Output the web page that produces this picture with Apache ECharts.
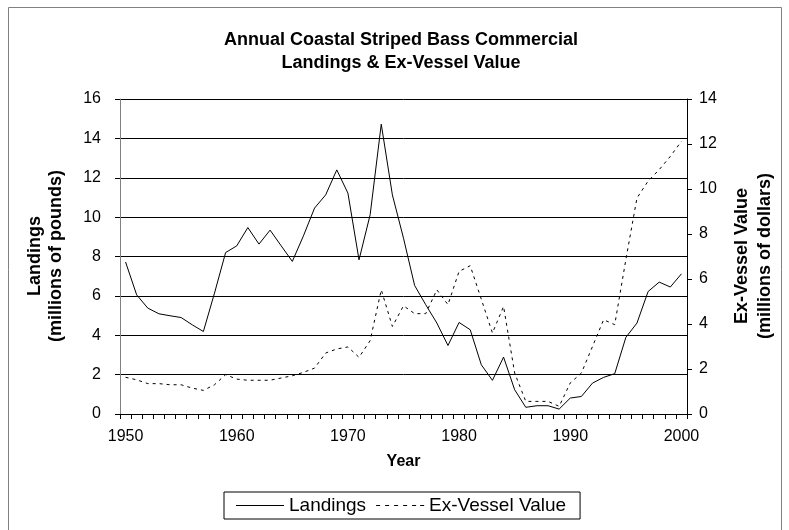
<!DOCTYPE html>
<html><head><meta charset="utf-8">
<script src="https://cdn.jsdelivr.net/npm/echarts@6/dist/echarts.min.js"></script>
<style>html,body{margin:0;padding:0;background:#fff}#c{width:789px;height:530px}</style>
</head><body><div id="c"></div>
<script>
var years = [];
for (var y = 1950; y <= 2000; y++) years.push(String(y));
var landings = [7.72, 6.05, 5.38, 5.09, 4.99, 4.90, 4.53, 4.19, 6.14, 8.20,
  8.54, 9.47, 8.63, 9.34, 8.54, 7.75, 9.05, 10.46, 11.13, 12.40,
  11.22, 7.83, 10.12, 14.72, 11.13, 8.93, 6.53, 5.55, 4.62, 3.48,
  4.65, 4.28, 2.50, 1.71, 2.89, 1.23, 0.34, 0.42, 0.42, 0.25,
  0.81, 0.89, 1.57, 1.86, 2.05, 3.89, 4.62, 6.22, 6.70, 6.45,
  7.12];
var exVesselValue = [1.63, 1.52, 1.35, 1.35, 1.30, 1.30, 1.15, 1.05, 1.30, 1.75,
  1.55, 1.50, 1.50, 1.50, 1.60, 1.70, 1.85, 2.04, 2.71, 2.89,
  2.98, 2.52, 3.26, 5.52, 3.89, 4.81, 4.46, 4.46, 5.52, 4.86,
  6.34, 6.59, 5.10, 3.60, 4.78, 1.82, 0.56, 0.56, 0.56, 0.34,
  1.38, 1.82, 3.00, 4.19, 3.97, 6.86, 9.60, 10.35, 10.86, 11.45,
  12.12];
var titleLines = ['Annual Coastal Striped Bass Commercial', 'Landings & Ex-Vessel Value'];
var FONT = '"Liberation Sans", Arial, sans-serif';

var solidIcon = 'path://M0,0H48V1H0Z';
var dashIcon = 'path://M0,0H4V1H0Z M9,0H13V1H9Z M18,0H22V1H18Z M27,0H31V1H27Z M36,0H40V1H36Z M44,0H48V1H44Z';

var chart = echarts.init(document.getElementById('c'), null, {renderer: 'canvas'});
chart.setOption({
  animation: false,
  backgroundColor: '#fff',
  textStyle: {fontFamily: FONT, color: '#000'},
  grid: {left: 120, top: 99, width: 567, height: 315, containLabel: false},
  legend: {
    data: [{name: 'Landings', icon: solidIcon}, {name: 'Ex-Vessel Value', icon: dashIcon}],
    left: 224, top: 492,
    itemWidth: 48, itemHeight: 1, itemGap: 10,
    symbolKeepAspect: false,
    itemStyle: {borderWidth: 0, color: '#000'},
    padding: [4, 14, 4, 12],
    borderColor: '#000', borderWidth: 1,
    textStyle: {fontFamily: FONT, fontSize: 19, color: '#000'}
  },
  graphic: [
    {type: 'rect', shape: {x: 8.5, y: 7.5, width: 773, height: 540}, style: {fill: 'none', stroke: '#808080', lineWidth: 1}, silent: true},
    {type: 'text', style: {text: titleLines[0], x: 401, y: 40, textAlign: 'center', textVerticalAlign: 'middle', font: 'bold 18px ' + FONT, fill: '#000'}},
    {type: 'text', style: {text: titleLines[1], x: 401, y: 63, textAlign: 'center', textVerticalAlign: 'middle', font: 'bold 18px ' + FONT, fill: '#000'}},
    {type: 'text', x: 35, y: 256, rotation: Math.PI / 2, style: {text: 'Landings', textAlign: 'center', textVerticalAlign: 'middle', font: 'bold 18px ' + FONT, fill: '#000'}},
    {type: 'text', x: 56, y: 256, rotation: Math.PI / 2, style: {text: '(millions of pounds)', textAlign: 'center', textVerticalAlign: 'middle', font: 'bold 18px ' + FONT, fill: '#000'}},
    {type: 'text', x: 742, y: 256, rotation: Math.PI / 2, style: {text: 'Ex-Vessel Value', textAlign: 'center', textVerticalAlign: 'middle', font: 'bold 18px ' + FONT, fill: '#000'}},
    {type: 'text', x: 765, y: 256, rotation: Math.PI / 2, style: {text: '(millions of dollars)', textAlign: 'center', textVerticalAlign: 'middle', font: 'bold 18px ' + FONT, fill: '#000'}}
  ],
  xAxis: {
    type: 'category', data: years, boundaryGap: true,
    name: 'Year', nameLocation: 'middle', nameGap: 40,
    nameTextStyle: {fontFamily: FONT, fontSize: 16, fontWeight: 'bold', color: '#000'},
    axisLine: {lineStyle: {color: '#000', width: 1}},
    axisTick: {show: true, interval: 0, length: 5, lineStyle: {color: '#000'}},
    axisLabel: {interval: 9, margin: 15, fontSize: 16, fontFamily: FONT, color: '#000'},
    splitLine: {show: false}
  },
  yAxis: [
    {
      type: 'value', min: 0, max: 16, interval: 2, position: 'left',
      axisLine: {show: true, lineStyle: {color: '#808080', width: 1}},
      axisTick: {show: true, length: 5, lineStyle: {color: '#000'}},
      axisLabel: {margin: 19, fontSize: 16, fontFamily: FONT, color: '#000'},
      splitLine: {show: true, lineStyle: {color: '#000', width: 1}}
    },
    {
      type: 'value', min: 0, max: 14, interval: 2, position: 'right',
      axisLine: {show: true, lineStyle: {color: '#000', width: 1}},
      axisTick: {show: true, length: 5, lineStyle: {color: '#000'}},
      axisLabel: {margin: 12, fontSize: 16, fontFamily: FONT, color: '#000'},
      splitLine: {show: false}
    }
  ],
  series: [
    {name: 'Landings', type: 'line', yAxisIndex: 0, data: landings, symbol: 'none',
     lineStyle: {color: '#000', width: 1, type: 'solid'}, itemStyle: {color: '#000'}},
    {name: 'Ex-Vessel Value', type: 'line', yAxisIndex: 1, data: exVesselValue, symbol: 'none',
     lineStyle: {color: '#000', width: 1, type: [3, 4]}, itemStyle: {color: '#000'}}
  ]
});
</script></body></html>
